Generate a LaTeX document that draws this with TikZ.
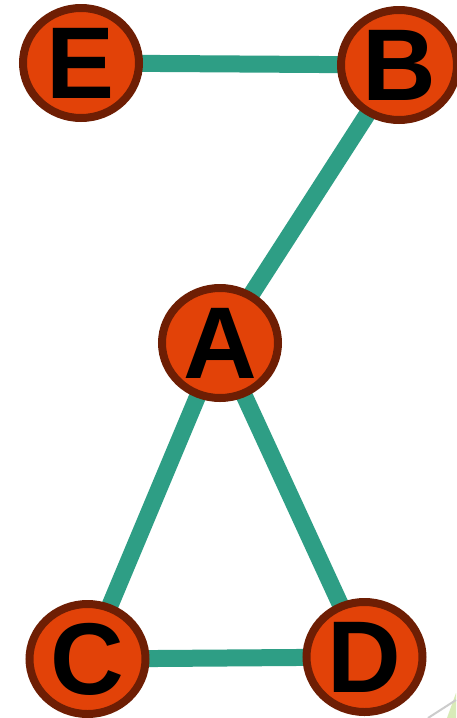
\documentclass[tikz,border=0pt]{standalone}
\usepackage{fontspec}
\setmainfont{Liberation Sans}
\usetikzlibrary{shapes.geometric,backgrounds}
\definecolor{nodefill}{HTML}{E24208}
\definecolor{nodeline}{HTML}{6E1E04}
\definecolor{edgecol}{HTML}{2E9E85}
\definecolor{curl}{HTML}{D8EBB8}
\begin{document}
\begin{tikzpicture}[x=1pt,y=-1pt,
  vert/.style={ellipse,draw=nodeline,fill=nodefill,line width=8pt,
    minimum width=116pt,minimum height=110pt,inner sep=0pt,
    font=\fontsize{102}{102}\selectfont\bfseries,text=black},
  link/.style={draw=edgecol,line width=17pt}]
\useasboundingbox (0,0) rectangle (456,718);
\node[vert] (E) at (81,63) {E};
\node[vert] (B) at (399,65) {B};
\node[vert] (A) at (220,343) {A};
\node[vert] (C) at (87.5,659) {C};
\node[vert] (D) at (364.5,657) {D};
\begin{scope}[on background layer]
\fill[white] (0,0) rectangle (456,718);
\fill[curl] (447,718) -- (456,693) -- (456,718) -- cycle;
\draw[gray!40,line width=2pt] (428,718) -- (456,700);
\path[link] (E.center) -- (B.center);
\path[link] (B.center) -- (A.center);
\path[link] (A.center) -- (C.center);
\path[link] (A.center) -- (D.center);
\path[link] (C.center) -- (D.center);
\end{scope}
\end{tikzpicture}
\end{document}
